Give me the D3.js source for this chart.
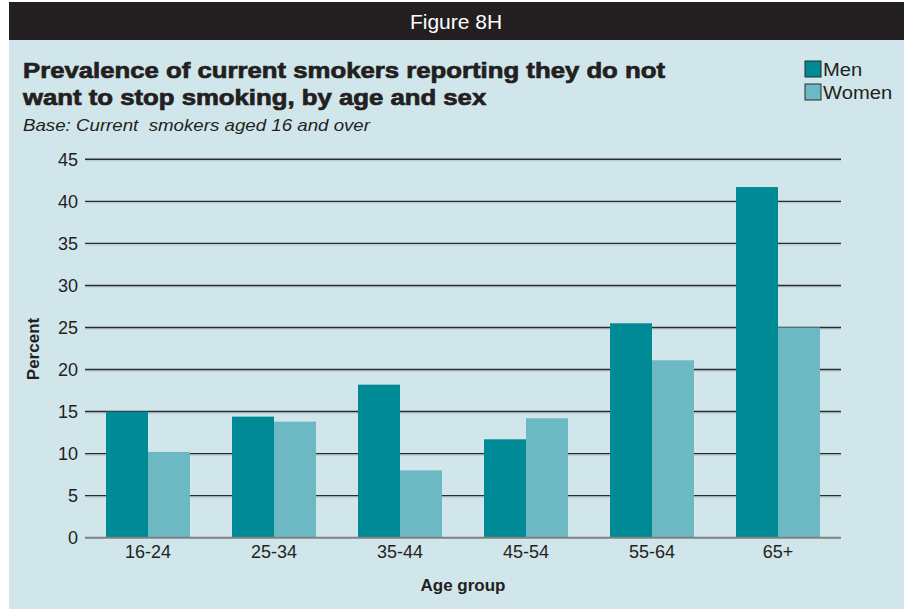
<!DOCTYPE html>
<html>
<head>
<meta charset="utf-8">
<script src="https://cdn.jsdelivr.net/npm/d3@7"></script>
<style>
  body { margin: 0; background: #ffffff; }
  svg { display: block; font-family: "Liberation Sans", Arial, sans-serif; }
</style>
</head>
<body>
<div id="chart"></div>
<script>
// data
var ageGroups = ["16-24", "25-34", "35-44", "45-54", "55-64", "65+"];
var men = [15.0, 14.4, 18.2, 11.7, 25.5, 41.7];
var women = [10.2, 13.8, 8.0, 14.2, 21.1, 25.0];
var seriesNames = ["Men", "Women"];
var seriesColors = ["#008a96", "#6cb8c3"];
var yTicks = [0, 5, 10, 15, 20, 25, 30, 35, 40, 45];

// widen text a little, the original face is broader than Arial
function stretch(sel, k) {
    sel.each(function() {
        var w = this.getComputedTextLength();
        d3.select(this).attr("textLength", w * k).attr("lengthAdjust", "spacingAndGlyphs");
    });
}

function drawChart() {
    var width = 904, height = 609;
    var svg = d3.select("#chart").append("svg")
        .attr("width", width)
        .attr("height", height);

    // panel background and header bar
    svg.append("rect").attr("x", 9).attr("y", 2).attr("width", width - 9).attr("height", height - 2)
        .attr("fill", "#d0e6eb");
    svg.append("rect").attr("x", 9).attr("y", 2).attr("width", width - 9).attr("height", 38)
        .attr("fill", "#231f20");
    svg.append("text").attr("x", 456).attr("y", 29)
        .attr("text-anchor", "middle").attr("fill", "#ffffff")
        .style("font-size", "21px")
        .text("Figure 8H");

    // title (heavy face, thickened with a thin stroke)
    var t1 = svg.append("text").attr("x", 23).attr("y", 78)
        .text("Prevalence of current smokers reporting they do not");
    var t2 = svg.append("text").attr("x", 23).attr("y", 105)
        .text("want to stop smoking, by age and sex");
    [t1, t2].forEach(function(t) {
        t.attr("fill", "#231f20").attr("stroke", "#231f20").attr("stroke-width", 0.7)
            .style("font-size", "22px").style("font-weight", "bold");
    });
    var k = (665 - 23) / t1.node().getComputedTextLength();
    stretch(t1, k);
    stretch(t2, k);

    var sub = svg.append("text").attr("x", 23).attr("y", 131)
        .attr("fill", "#231f20")
        .style("font-size", "16.5px").style("font-style", "italic").style("white-space", "pre")
        .text("Base: Current  smokers aged 16 and over");
    stretch(sub, (370 - 23) / sub.node().getComputedTextLength());

    // legend
    var legend = svg.selectAll(".legend").data(seriesNames).enter().append("g")
        .attr("transform", function(d, i) { return "translate(805," + (61 + i * 23) + ")"; });
    legend.append("rect").attr("width", 16).attr("height", 16)
        .attr("fill", function(d, i) { return seriesColors[i]; })
        .attr("stroke", "#2b2b2b").attr("stroke-width", 1);
    var legText = legend.append("text").attr("x", 18).attr("y", 15)
        .attr("fill", "#231f20").style("font-size", "18px")
        .text(function(d) { return d; });
    stretch(legText, 1.12);

    // scales
    var x0 = d3.scaleBand().domain(ageGroups).range([85, 841])
        .paddingInner(1 / 3).paddingOuter(1 / 6);
    var x1 = d3.scaleBand().domain(seriesNames).range([0, x0.bandwidth()]);
    var y = d3.scaleLinear().domain([0, 45]).range([537.7, 159.3]);

    // gridlines with soft shadow
    var grid = svg.append("g");
    grid.selectAll(".shadow").data(yTicks.slice(1)).enter().append("line")
        .attr("x1", 85).attr("x2", 841)
        .attr("y1", function(d) { return y(d) + 1.5; })
        .attr("y2", function(d) { return y(d) + 1.5; })
        .attr("stroke", "#b3c6ca").attr("stroke-width", 1);
    grid.selectAll(".grid").data(yTicks.slice(1)).enter().append("line")
        .attr("x1", 85).attr("x2", 841)
        .attr("y1", function(d) { return y(d); })
        .attr("y2", function(d) { return y(d); })
        .attr("stroke", "#2b2b2b").attr("stroke-width", 1.4);

    // bars
    var rows = ageGroups.map(function(g, i) { return { group: g, values: [men[i], women[i]] }; });
    var groups = svg.selectAll(".grp").data(rows).enter().append("g")
        .attr("transform", function(d) { return "translate(" + x0(d.group) + ",0)"; });
    groups.selectAll("rect").data(function(d) {
        return d.values.map(function(v, i) { return { name: seriesNames[i], value: v, color: seriesColors[i] }; });
    }).enter().append("rect")
        .attr("x", function(d) { return x1(d.name); })
        .attr("width", x1.bandwidth())
        .attr("y", function(d) { return y(d.value); })
        .attr("height", function(d) { return y(0) - y(d.value); })
        .attr("fill", function(d) { return d.color; });

    // baseline
    svg.append("line").attr("x1", 85).attr("x2", 841)
        .attr("y1", y(0)).attr("y2", y(0))
        .attr("stroke", "#808080").attr("stroke-width", 2);

    // y axis labels
    var yAxis = d3.axisLeft(y).tickValues(yTicks).tickSize(0).tickPadding(0);
    var ya = svg.append("g").attr("transform", "translate(78,0)").call(yAxis);
    ya.select(".domain").remove();
    ya.selectAll("text").style("font-size", "18px").style("font-family", "Liberation Sans, Arial, sans-serif")
        .attr("fill", "#231f20");

    // x axis labels
    var xAxis = d3.axisBottom(x0).tickSize(0).tickPadding(0);
    var xa = svg.append("g").attr("transform", "translate(0,545)").call(xAxis);
    xa.select(".domain").remove();
    xa.selectAll("text").style("font-size", "18px").style("font-family", "Liberation Sans, Arial, sans-serif")
        .attr("fill", "#231f20");

    // axis titles
    svg.append("text").attr("transform", "translate(39,349) rotate(-90)")
        .attr("text-anchor", "middle").attr("fill", "#231f20")
        .style("font-size", "17px").style("font-weight", "bold")
        .text("Percent");
    svg.append("text").attr("x", 463).attr("y", 591)
        .attr("text-anchor", "middle").attr("fill", "#231f20")
        .style("font-size", "17px").style("font-weight", "bold")
        .text("Age group");
}

document.addEventListener("DOMContentLoaded", drawChart);
</script>
</body>
</html>
